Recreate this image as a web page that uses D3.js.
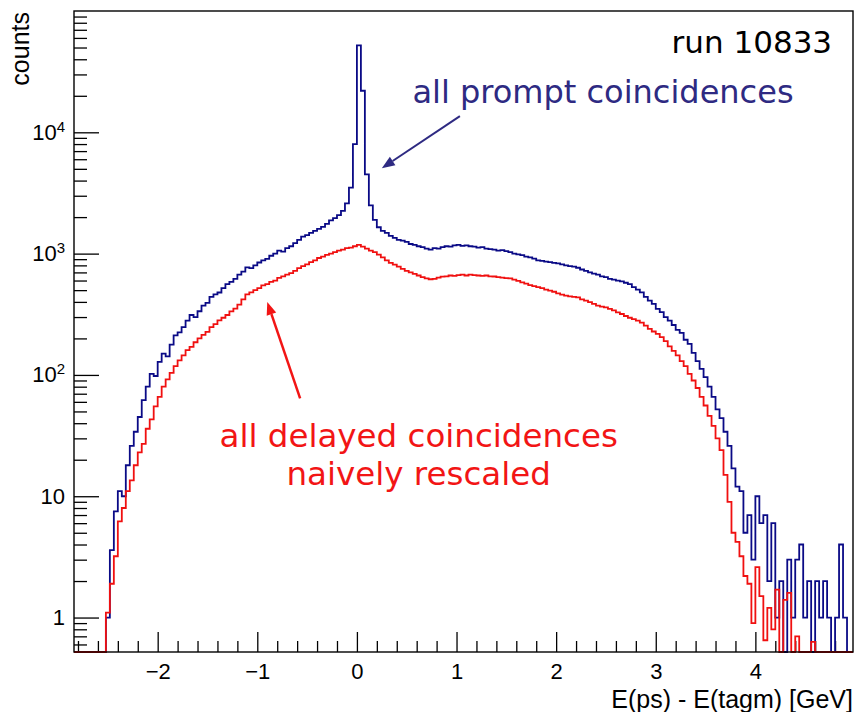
<!DOCTYPE html>
<html>
<head>
<meta charset="utf-8">
<script src="https://cdn.jsdelivr.net/npm/d3@7"></script>
<style>
body { margin: 0; background: #fff; }
svg { display: block; }
.axis text { font-family: "Liberation Sans", Arial, sans-serif; fill: #000; }
.axis line { stroke: #000; stroke-width: 1.3; }
.axis path { display: none; }
.note { font-family: "DejaVu Sans", sans-serif; }
</style>
</head>
<body>
<div class="chart"></div>
<script>
// histogram binning: 196 bins of 0.04 GeV starting at -2.84
var binStart = -2.84, binWidth = 0.04;

// all prompt coincidences (counts per bin)
var promptCounts = [
  0, 0, 0, 0, 0, 0, 0, 0, 1, 3.6,
  7.5, 11, 10, 18, 26, 34, 45, 62, 80, 102,
  98, 128, 150, 142, 178, 212, 224, 248, 280, 312,
  300, 335, 372, 392, 440, 462, 478, 520, 560, 585,
  620, 670, 710, 770, 760, 800, 845, 880, 905, 960,
  1000, 1060, 1040, 1110, 1150, 1220, 1300, 1380, 1420, 1480,
  1540, 1600, 1660, 1760, 1880, 1960, 2080, 2250, 2600, 3500,
  8000, 52000, 22000, 4500, 2500, 1900, 1650, 1540, 1480, 1400,
  1350, 1300, 1280, 1250, 1200, 1180, 1150, 1130, 1100, 1080,
  1110, 1100, 1130, 1150, 1140, 1170, 1180, 1160, 1170, 1150,
  1140, 1120, 1130, 1100, 1090, 1080, 1060, 1070, 1050, 1030,
  1000, 985, 970, 945, 930, 910, 880, 870, 860, 850,
  840, 830, 815, 800, 790, 780, 765, 740, 720, 700,
  685, 670, 650, 640, 620, 610, 600, 590, 575, 560,
  530, 505, 480, 440, 410, 385, 350, 330, 300, 280,
  258, 235, 222, 195, 180, 152, 130, 112, 96, 80,
  66, 52, 44, 34, 26, 17, 12, 11, 5, 7,
  3, 10, 6, 7, 2, 6, 1, 2, 0, 3,
  1, 3, 4, 1, 2, 0, 2, 1, 2, 1,
  0, 1, 4, 1, 0, 0
];

// all delayed coincidences, naively rescaled
var delayedCounts = [
  0, 0, 0, 0, 0, 0, 0, 0, 1.1, 1.9,
  3.2, 6.2, 8, 11, 13.5, 18, 23, 27, 36, 43,
  55, 66, 80, 92, 104, 118, 132, 145, 160, 170,
  186, 200, 214, 226, 248, 262, 282, 296, 312, 334,
  352, 380, 420, 462, 480, 500, 520, 548, 560, 585,
  600, 632, 650, 670, 690, 720, 760, 790, 815, 850,
  880, 920, 945, 975, 1000, 1030, 1060, 1080, 1110, 1120,
  1150, 1180, 1140, 1100, 1060, 1030, 980, 930, 880, 840,
  810, 780, 750, 720, 700, 680, 660, 640, 625, 615,
  620, 635, 645, 650, 660, 655, 665, 670, 660, 670,
  665, 660, 655, 660, 650, 648, 640, 635, 628, 625,
  610, 595, 580, 565, 550, 540, 530, 520, 505, 495,
  485, 470, 460, 450, 445, 440, 435, 420, 410, 398,
  385, 372, 365, 360, 350, 340, 328, 318, 306, 296,
  288, 280, 270, 255, 240, 228, 218, 205, 190, 172,
  158, 145, 130, 118, 102, 90, 78, 66, 56, 46,
  38, 30, 24, 15, 9, 5, 4.2, 3.2, 2.2, 1.9,
  0.9, 2.6, 1.5, 0.65, 1.2, 0.8, 1.7, 0, 1.4, 1.6,
  0, 0.7, 0, 0, 0, 0.63, 0, 0, 0, 0,
  0, 0, 0, 0, 0, 0
];

var xDomain = [-2.84, 4.98];
var yDomain = [0.52, 1e5];
var xTicks = [-2, -1, 0, 1, 2, 3, 4];
var yTicks = [1, 10, 100, 1000, 10000];
var yTickLabels = ["1", "10", "10^2", "10^3", "10^4"];

var width = 857, height = 712;
var margin = { top: 11, right: 4, bottom: 60, left: 74 },
    w = width - margin.left - margin.right,
    h = 652 - margin.top;

var svg = d3.select('.chart')
    .append('svg')
    .attr('width', width)
    .attr('height', height);

var g = svg.append('g')
    .attr('transform', 'translate(' + margin.left + ',' + margin.top + ')');

var x = d3.scaleLinear().domain(xDomain).range([0, w]);
var y = d3.scaleLog().domain(yDomain).range([h, 0]);

svg.append('defs').append('clipPath').attr('id', 'frame')
    .append('rect').attr('width', w).attr('height', h + 1);

// minor ticks
var xMinor = d3.range(-28, 50, 2).map(function(d) { return d / 10; })
    .filter(function(d) { return xTicks.indexOf(d) < 0; });
var yMinor = [];
[0.1, 1, 10, 100, 1000, 10000].forEach(function(dec) {
    for (var k = 2; k <= 9; k++) {
        var v = dec * k;
        if (v >= yDomain[0] && v < yDomain[1]) yMinor.push(v);
    }
});

g.append('g').attr('class', 'axis')
    .attr('transform', 'translate(0,' + h + ')')
    .call(d3.axisBottom(x).tickValues(xMinor).tickSize(-11).tickSizeOuter(0).tickFormat(''));

g.append('g').attr('class', 'axis')
    .attr('transform', 'translate(0,' + h + ')')
    .call(d3.axisBottom(x).tickValues(xTicks).tickSize(-20).tickSizeOuter(0).tickPadding(11)
        .tickFormat(function(d) { return d < 0 ? '\u2212' + Math.abs(d) : d; }))
    .selectAll('text').style('font-size', '22px');

g.append('g').attr('class', 'axis')
    .call(d3.axisLeft(y).tickValues(yMinor).tickSize(-13).tickSizeOuter(0).tickFormat(''));

g.append('g').attr('class', 'axis')
    .call(d3.axisLeft(y).tickValues(yTicks).tickSize(-25).tickSizeOuter(0).tickPadding(9)
        .tickFormat(''))
    .selectAll('text')
    .style('font-size', '22px')
    .each(function(d, i) {
        var parts = yTickLabels[i].split('^');
        var t = d3.select(this);
        t.append('tspan').text(parts[0]);
        if (parts[1]) {
            t.append('tspan').attr('dy', '-0.55em').style('font-size', '15px').text(parts[1]);
        }
    });

// histograms
function histPath(vals) {
    var yy = function(v) { return v < yDomain[0] ? h : y(v); };
    var p = d3.path();
    p.moveTo(x(binStart), yy(vals[0]));
    vals.forEach(function(v, i) {
        var x0 = x(binStart + i * binWidth),
            x1 = x(binStart + (i + 1) * binWidth);
        if (i > 0) p.lineTo(x0, yy(v));
        p.lineTo(x1, yy(v));
    });
    return p.toString();
}

var plot = g.append('g').attr('clip-path', 'url(#frame)');

plot.append('path')
    .attr('d', histPath(promptCounts))
    .attr('fill', 'none')
    .attr('stroke', '#0a0a86')
    .attr('stroke-width', 1.8);

plot.append('path')
    .attr('d', histPath(delayedCounts))
    .attr('fill', 'none')
    .attr('stroke', '#f01010')
    .attr('stroke-width', 1.8);

// frame
g.append('rect')
    .attr('width', w).attr('height', h)
    .attr('fill', 'none').attr('stroke', '#000').attr('stroke-width', 1.4);

// axis titles
svg.append('text')
    .attr('x', 853).attr('y', 708)
    .attr('text-anchor', 'end')
    .style('font-family', '"Liberation Sans", Arial, sans-serif')
    .style('font-size', '25px')
    .text('E(ps) - E(tagm) [GeV]');

svg.append('text')
    .attr('transform', 'translate(29,12) rotate(-90)')
    .attr('text-anchor', 'end')
    .style('font-family', '"Liberation Sans", Arial, sans-serif')
    .style('font-size', '25px')
    .text('counts');

// annotations (positioned in data units)
var blueNote = '#2e2a82', redNote = '#f21515';

function note(txt, dx, dy, anchor, color, size, shift) {
    g.append('text').attr('class', 'note')
        .attr('x', x(dx)).attr('y', y(dy) + (shift || 0))
        .attr('text-anchor', anchor)
        .style('font-size', size + 'px')
        .attr('fill', color)
        .text(txt);
}
note('run 10833', 4.77, 45000, 'end', '#000', 31);
note('all prompt coincidences', 2.47, 17400, 'middle', blueNote, 32);
note('all delayed coincidences', 0.62, 25.5, 'middle', redNote, 32.5);
note('naively rescaled', 0.62, 25.5, 'middle', redNote, 32.5, 38);

function arrow(from, to, color, lw) {
    var x0 = x(from[0]), y0 = y(from[1]), x1 = x(to[0]), y1 = y(to[1]);
    var ang = Math.atan2(y1 - y0, x1 - x0), len = 13, hw = 5;
    var bx = x1 - len * Math.cos(ang), by = y1 - len * Math.sin(ang);
    g.append('line')
        .attr('x1', x0).attr('y1', y0).attr('x2', bx).attr('y2', by)
        .attr('stroke', color).attr('stroke-width', lw);
    g.append('path')
        .attr('d', 'M' + x1 + ',' + y1 +
            'L' + (bx + hw * Math.sin(ang)) + ',' + (by - hw * Math.cos(ang)) +
            'L' + (bx - hw * Math.sin(ang)) + ',' + (by + hw * Math.cos(ang)) + 'Z')
        .attr('fill', color);
}
arrow([1.034, 13580], [0.25, 5060], blueNote, 2);
arrow([-0.57, 64], [-0.90, 400], redNote, 2.5);
</script>
</body>
</html>
